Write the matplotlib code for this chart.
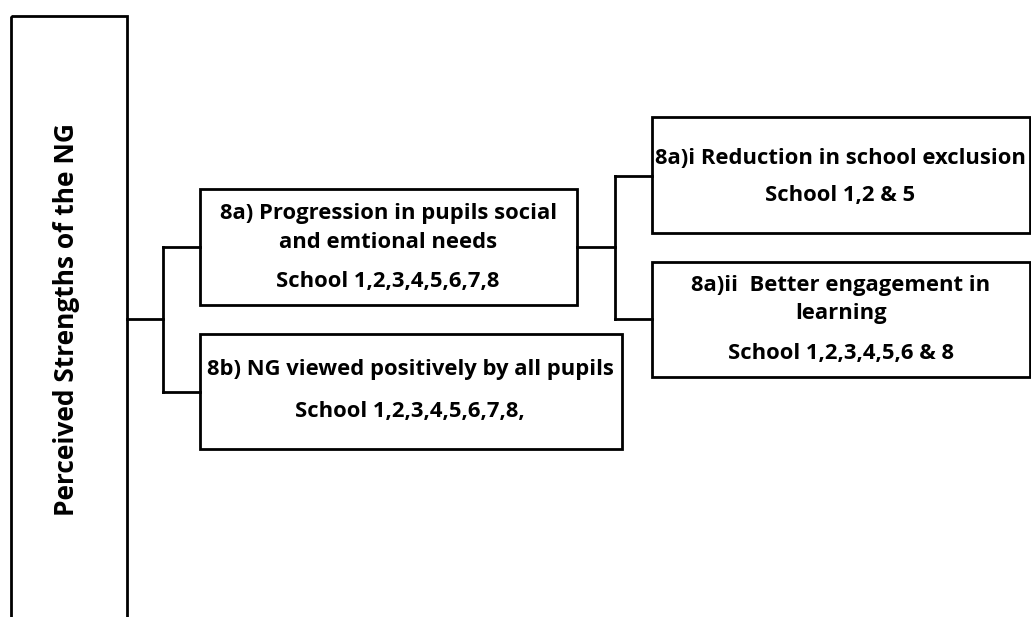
import matplotlib.pyplot as plt
from matplotlib.patches import Rectangle

# tree of themes: root label and child boxes
root_label = "Perceived Strengths of the NG"
node_ids = ["8a", "8b", "8ai", "8aii"]
node_lines = {
    "8a": ["8a) Progression in pupils social", "and emtional needs", "School 1,2,3,4,5,6,7,8"],
    "8b": ["8b) NG viewed positively by all pupils", "School 1,2,3,4,5,6,7,8,"],
    "8ai": ["8a)i Reduction in school exclusion", "School 1,2 & 5"],
    "8aii": ["8a)ii  Better engagement in", "learning", "School 1,2,3,4,5,6 & 8"],
}
parent_of = {"8a": "root", "8b": "root", "8ai": "8a", "8aii": "8a"}

# layout in pixel coordinates (x0, y0, x1, y1), y grows downwards
boxes = {
    "root": (11, 16, 127, 640),
    "8a": (200, 189, 577, 305),
    "8b": (200, 334, 622, 449),
    "8ai": (652, 117, 1030, 233),
    "8aii": (652, 262, 1030, 377),
}
text_x = {"8a": 388, "8b": 410, "8ai": 840, "8aii": 841}
text_y = {"8a": [213, 243, 282], "8b": [369, 412], "8ai": [159, 195], "8aii": [285, 314, 353]}
link_y = {"8a": 247, "8b": 392, "8ai": 176, "8aii": 319}
bracket_y = {"root": 319, "8a": 247}
bracket_x = {"root": 163, "8a": 615}

W, H = 1031, 617
fig = plt.figure(figsize=(W / 100, H / 100), dpi=100)
ax = fig.add_axes([0, 0, 1, 1])
ax.set_xlim(0, W)
ax.set_ylim(H, 0)
ax.axis("off")

lw = 2.0
font = ["Open Sans", "DejaVu Sans"]

for key, (x0, y0, x1, y1) in boxes.items():
    ax.add_patch(Rectangle((x0, y0), x1 - x0, y1 - y0, fill=False, lw=lw, ec="black"))

# root label, rotated
rx0, ry0, rx1, _ = boxes["root"]
root_txt = ax.text(67, 320, root_label, rotation=90, ha="center", va="center",
                   fontsize=19, fontweight="bold", family=font)

# connectors from each parent to its children
for parent in ["root", "8a"]:
    kids = [k for k in node_ids if parent_of[k] == parent]
    px1 = boxes[parent][2]
    bx = bracket_x[parent]
    ys = [link_y[k] for k in kids]
    ax.plot([px1, bx], [bracket_y[parent]] * 2, color="black", lw=lw)
    ax.plot([bx, bx], [min(ys), max(ys)], color="black", lw=lw, solid_capstyle="projecting")
    for k, yk in zip(kids, ys):
        ax.plot([bx, boxes[k][0]], [yk, yk], color="black", lw=lw)

texts = []
for k in node_ids:
    for line, yy in zip(node_lines[k], text_y[k]):
        texts.append(ax.text(text_x[k], yy, line, ha="center", va="center",
                             fontsize=16, fontweight="bold", family=font))

# scale fonts so the label lengths match the reference (root ~395 px, 8a)i line ~370 px)
fig.canvas.draw()
r = fig.canvas.get_renderer()
for _ in range(2):
    h = root_txt.get_window_extent(r).height
    root_txt.set_fontsize(root_txt.get_fontsize() * 395 / h)
    ref = texts[5].get_window_extent(r).width
    s = texts[5].get_fontsize() * 370 / ref
    for t in texts:
        t.set_fontsize(s)
    fig.canvas.draw()

fig.savefig("out.png", dpi=100)
